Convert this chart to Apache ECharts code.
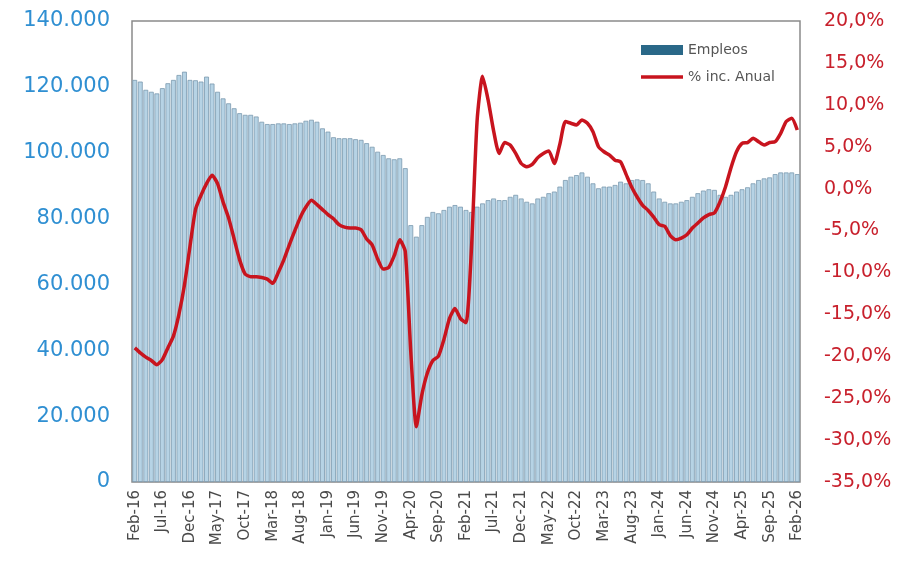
<!DOCTYPE html>
<html>
<head>
<meta charset="utf-8">
<script src="https://cdn.jsdelivr.net/npm/echarts@6/dist/echarts.min.js"></script>
<style>
  html, body { margin: 0; padding: 0; background: #ffffff; }
  #chart { width: 912px; height: 584px; }
</style>
</head>
<body>
<div id="chart"></div>
<script>
// Monthly series, Feb-2016 .. Feb-2026
const monthNames = ['Jan','Feb','Mar','Apr','May','Jun','Jul','Aug','Sep','Oct','Nov','Dec'];
const startYear = 2016, startMonth = 1, monthCount = 121;

// Employment (number of jobs)
const empleos = [
  122100,121600,119100,118500,118000,119600,121100,122100,123600,124600,
  122100,122000,121600,123100,121000,118500,116500,115000,113500,112000,
  111500,111500,111000,109400,108700,108700,108900,108900,108700,108900,
  109100,109700,110000,109400,107400,106400,104700,104400,104400,104400,
  104100,103900,102900,101800,100300,99300,98300,98000,98300,95300,
  78000,74500,78000,80500,82000,81600,82600,83600,84100,83600,
  82600,82000,83600,84600,85600,86100,85600,85600,86600,87200,
  86100,85100,84600,86100,86600,87700,88200,89700,91700,92700,
  93200,94000,92700,90700,89200,89700,89700,90200,91200,90700,
  91700,91900,91700,90700,88200,86100,85100,84600,84600,85100,
  85600,86600,87700,88500,88900,88700,87200,86600,87200,88200,
  88900,89500,90700,91700,92200,92500,93500,94000,94000,94000,
  93500
];

// Year-on-year change (%)
const incAnual = [
  -19.0,-19.6,-20.1,-20.5,-21.0,-20.4,-19.0,-17.6,-15.0,-11.5,
  -6.9,-2.5,-0.8,0.6,1.6,0.6,-1.6,-3.5,-6.0,-8.5,
  -10.2,-10.5,-10.5,-10.6,-10.8,-11.3,-10.0,-8.5,-6.7,-5.0,
  -3.4,-2.2,-1.4,-1.9,-2.5,-3.1,-3.6,-4.3,-4.6,-4.7,
  -4.7,-4.9,-6.0,-6.7,-8.4,-9.6,-9.4,-8.0,-6.1,-7.5,
  -19.5,-28.4,-24.6,-22.0,-20.5,-20.0,-18.0,-15.5,-14.3,-15.5,
  -16.0,-7.0,8.0,13.4,10.6,6.9,4.2,5.5,5.2,4.2,
  3.0,2.6,2.9,3.7,4.2,4.5,3.0,5.3,8.0,7.8,
  7.6,8.2,7.8,6.8,5.0,4.4,4.0,3.4,3.2,1.7,
  0.2,-1.0,-2.0,-2.6,-3.4,-4.3,-4.5,-5.6,-6.1,-5.9,
  -5.5,-4.7,-4.1,-3.5,-3.1,-2.9,-1.6,0.2,2.5,4.4,
  5.4,5.5,6.0,5.6,5.2,5.5,5.6,6.6,8.0,8.4,
  7.0
];

const categories = [];
for (let k = 0; k < monthCount; k++) {
  const m = (startMonth + k) % 12;
  const y = startYear + Math.floor((startMonth + k) / 12);
  categories.push(monthNames[m] + '-' + String(y % 100).padStart(2, '0'));
}

const fontFamily = '"DejaVu Sans", "Liberation Sans", sans-serif';

function thousands(v) {
  return String(v).replace(/\B(?=(\d{3})+(?!\d))/g, '.');
}

// Legend mark for the line: a thin horizontal stroke centred in the 42x10 icon box
const lineIcon = 'path://M0,0 M42,10 M0,3.3 L42,3.3 L42,6.7 L0,6.7 Z';

const chart = echarts.init(document.getElementById('chart'), null, { renderer: 'canvas' });
chart.setOption({
  animation: false,
  backgroundColor: '#ffffff',
  grid: {
    left: 132, right: 112, top: 21, bottom: 102,
    show: true, borderColor: '#8a8a8a', borderWidth: 1.5, backgroundColor: '#ffffff'
  },
  legend: {
    orient: 'vertical',
    left: 636, top: 38,
    itemWidth: 42, itemHeight: 10, itemGap: 13,
    textStyle: { fontFamily: fontFamily, fontSize: 14, color: '#555555' },
    data: [
      { name: 'Empleos', icon: 'rect', itemStyle: { color: '#2a6888', borderWidth: 0 } },
      { name: '% inc. Anual', icon: lineIcon, itemStyle: { color: '#c8141e', borderWidth: 0 } }
    ]
  },
  xAxis: {
    type: 'category',
    data: categories,
    boundaryGap: true,
    axisLine: { show: false },
    axisTick: { show: false },
    axisLabel: {
      interval: 4, rotate: 90, margin: 8,
      fontFamily: fontFamily, fontSize: 15, color: '#4a4a4a'
    },
    splitLine: { show: false }
  },
  yAxis: [
    {
      type: 'value', min: 0, max: 140000, interval: 20000,
      axisLine: { show: false }, axisTick: { show: false },
      splitLine: { show: false },
      axisLabel: {
        margin: 22, fontFamily: fontFamily, fontSize: 21, color: '#2f8fd2',
        formatter: v => thousands(v)
      }
    },
    {
      type: 'value', min: -35, max: 20, interval: 5, position: 'right',
      axisLine: { show: false }, axisTick: { show: false },
      splitLine: { show: false },
      axisLabel: {
        margin: 24, fontFamily: fontFamily, fontSize: 19, color: '#c8202c',
        formatter: v => v.toFixed(1).replace('.', ',') + '%'
      }
    }
  ],
  series: [
    {
      name: 'Empleos',
      type: 'bar',
      yAxisIndex: 0,
      data: empleos,
      barCategoryGap: '12%',
      itemStyle: { color: '#b6d3e5', borderColor: '#7b99ae', borderWidth: 0.8 }
    },
    {
      name: '% inc. Anual',
      type: 'line',
      yAxisIndex: 1,
      data: incAnual,
      symbol: 'none',
      smooth: 0.2,
      lineStyle: { color: '#c8141e', width: 3.5 },
      itemStyle: { color: '#c8141e' }
    }
  ]
});
</script>
</body>
</html>
